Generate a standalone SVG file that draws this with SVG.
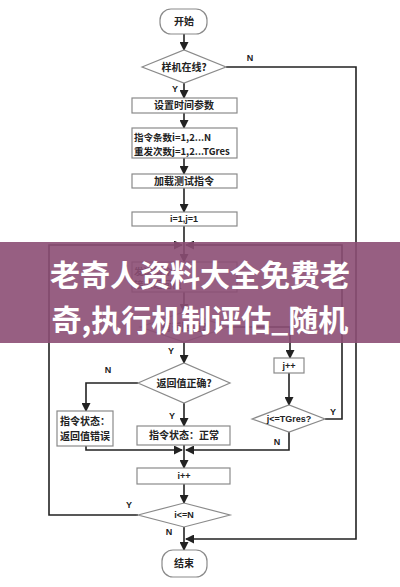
<svg xmlns="http://www.w3.org/2000/svg" width="400" height="587" viewBox="0 0 400 587">
<style>
.bx{fill:#fff;stroke:#8a8a8a;stroke-width:1.2}
.t{font-family:"Noto Sans CJK SC","Liberation Sans",sans-serif;font-size:10px;fill:#222;text-anchor:middle;font-weight:bold}
.tl{font-family:"Noto Sans CJK SC","Liberation Sans",sans-serif;font-size:9.5px;fill:#222;font-weight:bold}
.lb{font-family:"Liberation Sans",sans-serif;font-size:9px;fill:#222;font-weight:bold;text-anchor:middle}
.c{fill:none;stroke:#222;stroke-width:1.6}
.bn{font-family:"Noto Sans CJK SC",sans-serif;font-size:30px;fill:#fff;font-weight:bold;text-anchor:middle}
</style>
<defs>
<marker id="a" markerWidth="9" markerHeight="9" refX="8" refY="4.5" orient="auto" markerUnits="userSpaceOnUse">
<path d="M0,0 L9,4.5 L0,9 Z" fill="#222"/>
</marker>
</defs>
<rect width="400" height="587" fill="#fff"/>
<g id="connectors">
<path class="c" d="M184,34 V50" marker-end="url(#a)"/>
<path class="c" d="M184,83 V98" marker-end="url(#a)"/>
<path class="c" d="M226,67 H356 V539 H186" marker-end="url(#a)"/>
<path class="c" d="M184,113 V128" marker-end="url(#a)"/>
<path class="c" d="M184,158 V174" marker-end="url(#a)"/>
<path class="c" d="M184,188 V212" marker-end="url(#a)"/>
<path class="c" d="M184,226 V262" marker-end="url(#a)"/>
<path class="c" d="M138,515 H49 V245 H182" marker-end="url(#a)"/>
<path class="c" d="M325,419 H342 V245 H186" marker-end="url(#a)"/>
<path class="c" d="M184,292 V312" marker-end="url(#a)"/>
<path class="c" d="M226,327 H290 V358" marker-end="url(#a)"/>
<path class="c" d="M184,342 V363" marker-end="url(#a)"/>
<path class="c" d="M289,373 V405" marker-end="url(#a)"/>
<path class="c" d="M289,432 V450 H186" marker-end="url(#a)"/>
<path class="c" d="M138,383 H86 V411" marker-end="url(#a)"/>
<path class="c" d="M184,403 V426" marker-end="url(#a)"/>
<path class="c" d="M86,446 V450 H182" marker-end="url(#a)"/>
<path class="c" d="M184,445 V468" marker-end="url(#a)"/>
<path class="c" d="M184,484 V503" marker-end="url(#a)"/>
<path class="c" d="M184,527 V550" marker-end="url(#a)"/>
<text class="lb" x="250" y="61">N</text>
<text class="lb" x="175" y="92">Y</text>
<text class="lb" x="171" y="354">Y</text>
<text class="lb" x="108" y="373">N</text>
<text class="lb" x="172" y="419">Y</text>
<text class="lb" x="333" y="415">Y</text>
<text class="lb" x="277" y="445">N</text>
<text class="lb" x="129" y="508">Y</text>
<text class="lb" x="169" y="535">N</text>
</g>
<g id="start"><rect class="bx" x="160" y="9" width="47" height="25" rx="11"/><text class="t" x="184" y="25">开始</text></g>
<g id="online"><polygon class="bx" points="142,67 184,50 226,67 184,83"/><text class="t" x="184" y="71">样机在线?</text></g>
<g id="settime"><rect class="bx" x="132" y="98" width="105" height="15"/><text class="t" x="184" y="109">设置时间参数</text></g>
<g id="params"><rect class="bx" x="132" y="128" width="105" height="30"/><text class="tl" x="134" y="141">指令条数i=1,2...N</text><text class="tl" x="134" y="155">重发次数j=1,2...TGres</text></g>
<g id="load"><rect class="bx" x="132" y="174" width="105" height="14"/><text class="t" x="184" y="185">加载测试指令</text></g>
<g id="init"><rect class="bx" x="132" y="212" width="105" height="14"/><text class="lb" x="184" y="222">i=1,j=1</text></g>
<g id="send"><rect class="bx" x="132" y="262" width="105" height="30"/><text class="tl" x="134" y="275">发送指令</text><text class="tl" x="134" y="288">接收返回值</text></g>
<g id="hasret"><polygon class="bx" points="140,327 184,312 228,327 184,342"/><text class="t" x="184" y="331">有返回值?</text></g>
<g id="jinc"><rect class="bx" x="274" y="358" width="30" height="15"/><text class="lb" x="289" y="369">j++</text></g>
<g id="jcheck"><polygon class="bx" points="252,419 289,405 325,419 289,432"/><text class="lb" x="289" y="422">j&lt;=TGres?</text></g>
<g id="retok"><polygon class="bx" points="138,383 184,363 230,383 184,403"/><text class="t" x="184" y="387">返回值正确?</text></g>
<g id="err"><rect class="bx" x="57" y="411" width="56" height="35"/><text class="t" x="85" y="425">指令状态：</text><text class="t" x="85" y="440">返回值错误</text></g>
<g id="ok"><rect class="bx" x="137" y="426" width="93" height="19"/><text class="t" x="184" y="439">指令状态：正常</text></g>
<g id="iinc"><rect class="bx" x="137" y="468" width="93" height="16"/><text class="lb" x="184" y="479">i++</text></g>
<g id="icheck"><polygon class="bx" points="138,515 184,503 230,515 184,527"/><text class="lb" x="184" y="518">i&lt;=N</text></g>
<g id="end"><rect class="bx" x="162" y="550" width="45" height="27" rx="11"/><text class="t" x="184" y="567">结束</text></g>
<g id="banner">
<rect x="0" y="242" width="400" height="101" fill="#8c4e74" opacity="0.9"/>
<text class="bn" x="200" y="286">老奇人资料大全免费老</text>
<text class="bn" x="200" y="331">奇,执行机制评估_随机</text>
</g>
</svg>
